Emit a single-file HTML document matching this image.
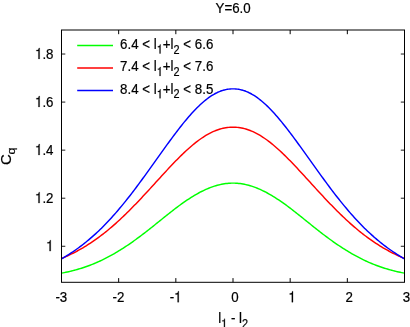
<!DOCTYPE html><html><head><meta charset="utf-8"><style>html,body{margin:0;padding:0;background:#fff}svg{display:block;will-change:transform;opacity:0.999}text{font-family:"Liberation Sans",sans-serif;fill:#000;stroke:#000;stroke-width:0.22px}</style></head><body>
<svg width="410" height="327" viewBox="0 0 410 327">
<rect width="410" height="327" fill="#fff"/>
<polyline points="61.50,273.16 62.93,272.89 64.36,272.60 65.79,272.31 67.22,272.00 68.65,271.68 70.07,271.35 71.50,271.00 72.93,270.64 74.36,270.27 75.79,269.89 77.22,269.49 78.65,269.07 80.08,268.65 81.51,268.20 82.94,267.74 84.37,267.27 85.80,266.78 87.23,266.28 88.65,265.76 90.08,265.22 91.51,264.67 92.94,264.10 94.37,263.51 95.80,262.91 97.23,262.29 98.66,261.65 100.09,261.00 101.52,260.32 102.95,259.63 104.38,258.93 105.80,258.21 107.23,257.47 108.66,256.72 110.09,255.95 111.52,255.16 112.95,254.36 114.38,253.54 115.81,252.71 117.24,251.86 118.67,250.99 120.10,250.11 121.53,249.22 122.95,248.31 124.38,247.38 125.81,246.44 127.24,245.49 128.67,244.53 130.10,243.55 131.53,242.55 132.96,241.55 134.39,240.53 135.82,239.50 137.25,238.46 138.68,237.41 140.10,236.35 141.53,235.28 142.96,234.20 144.39,233.10 145.82,232.00 147.25,230.89 148.68,229.77 150.11,228.64 151.54,227.50 152.97,226.36 154.40,225.21 155.82,224.06 157.25,222.91 158.68,221.75 160.11,220.60 161.54,219.44 162.97,218.29 164.40,217.13 165.83,215.99 167.26,214.84 168.69,213.70 170.12,212.57 171.55,211.45 172.98,210.34 174.40,209.24 175.83,208.15 177.26,207.07 178.69,206.01 180.12,204.96 181.55,203.93 182.98,202.92 184.41,201.92 185.84,200.94 187.27,199.97 188.70,199.03 190.12,198.10 191.55,197.19 192.98,196.31 194.41,195.44 195.84,194.60 197.27,193.79 198.70,193.00 200.13,192.23 201.56,191.49 202.99,190.78 204.42,190.10 205.85,189.44 207.28,188.81 208.70,188.22 210.13,187.65 211.56,187.11 212.99,186.61 214.42,186.14 215.85,185.70 217.28,185.30 218.71,184.92 220.14,184.59 221.57,184.28 223.00,184.02 224.43,183.78 225.85,183.59 227.28,183.42 228.71,183.30 230.14,183.21 231.57,183.15 233.00,183.14 234.43,183.15 235.86,183.21 237.29,183.30 238.72,183.42 240.15,183.59 241.58,183.78 243.00,184.02 244.43,184.28 245.86,184.59 247.29,184.92 248.72,185.30 250.15,185.70 251.58,186.14 253.01,186.61 254.44,187.11 255.87,187.65 257.30,188.22 258.73,188.81 260.15,189.44 261.58,190.10 263.01,190.78 264.44,191.49 265.87,192.23 267.30,193.00 268.73,193.79 270.16,194.60 271.59,195.44 273.02,196.31 274.45,197.19 275.88,198.10 277.30,199.03 278.73,199.97 280.16,200.94 281.59,201.92 283.02,202.92 284.45,203.93 285.88,204.96 287.31,206.01 288.74,207.07 290.17,208.15 291.60,209.24 293.02,210.34 294.45,211.45 295.88,212.57 297.31,213.70 298.74,214.84 300.17,215.99 301.60,217.13 303.03,218.29 304.46,219.44 305.89,220.60 307.32,221.75 308.75,222.91 310.18,224.06 311.60,225.21 313.03,226.36 314.46,227.50 315.89,228.64 317.32,229.77 318.75,230.89 320.18,232.00 321.61,233.10 323.04,234.20 324.47,235.28 325.90,236.35 327.32,237.41 328.75,238.46 330.18,239.50 331.61,240.53 333.04,241.55 334.47,242.55 335.90,243.55 337.33,244.53 338.76,245.49 340.19,246.44 341.62,247.38 343.05,248.31 344.48,249.22 345.90,250.11 347.33,250.99 348.76,251.86 350.19,252.71 351.62,253.54 353.05,254.36 354.48,255.16 355.91,255.95 357.34,256.72 358.77,257.47 360.20,258.21 361.62,258.93 363.05,259.63 364.48,260.32 365.91,261.00 367.34,261.65 368.77,262.29 370.20,262.91 371.63,263.51 373.06,264.10 374.49,264.67 375.92,265.22 377.35,265.76 378.78,266.28 380.20,266.78 381.63,267.27 383.06,267.74 384.49,268.20 385.92,268.65 387.35,269.07 388.78,269.49 390.21,269.89 391.64,270.27 393.07,270.64 394.50,271.00 395.93,271.35 397.35,271.68 398.78,272.00 400.21,272.31 401.64,272.60 403.07,272.89 404.50,273.16" fill="none" stroke="#00ff00" stroke-width="1.45" stroke-linejoin="round"/>
<polyline points="61.50,258.54 62.93,257.93 64.36,257.31 65.79,256.68 67.22,256.03 68.65,255.36 70.07,254.67 71.50,253.97 72.93,253.26 74.36,252.52 75.79,251.77 77.22,251.00 78.65,250.22 80.08,249.42 81.51,248.60 82.94,247.76 84.37,246.90 85.80,246.03 87.23,245.13 88.65,244.22 90.08,243.30 91.51,242.35 92.94,241.38 94.37,240.40 95.80,239.39 97.23,238.37 98.66,237.33 100.09,236.27 101.52,235.20 102.95,234.10 104.38,232.98 105.80,231.84 107.23,230.69 108.66,229.51 110.09,228.31 111.52,227.10 112.95,225.86 114.38,224.61 115.81,223.34 117.24,222.05 118.67,220.74 120.10,219.42 121.53,218.08 122.95,216.73 124.38,215.36 125.81,213.97 127.24,212.57 128.67,211.15 130.10,209.72 131.53,208.28 132.96,206.83 134.39,205.36 135.82,203.88 137.25,202.40 138.68,200.90 140.10,199.39 141.53,197.88 142.96,196.36 144.39,194.82 145.82,193.28 147.25,191.74 148.68,190.18 150.11,188.62 151.54,187.06 152.97,185.49 154.40,183.92 155.82,182.35 157.25,180.78 158.68,179.21 160.11,177.65 161.54,176.08 162.97,174.52 164.40,172.97 165.83,171.42 167.26,169.88 168.69,168.35 170.12,166.83 171.55,165.32 172.98,163.82 174.40,162.34 175.83,160.86 177.26,159.41 178.69,157.97 180.12,156.54 181.55,155.14 182.98,153.75 184.41,152.39 185.84,151.05 187.27,149.74 188.70,148.45 190.12,147.19 191.55,145.96 192.98,144.75 194.41,143.58 195.84,142.44 197.27,141.34 198.70,140.27 200.13,139.24 201.56,138.24 202.99,137.28 204.42,136.36 205.85,135.48 207.28,134.64 208.70,133.84 210.13,133.08 211.56,132.36 212.99,131.69 214.42,131.06 215.85,130.48 217.28,129.95 218.71,129.46 220.14,129.01 221.57,128.62 223.00,128.27 224.43,127.98 225.85,127.73 227.28,127.53 228.71,127.38 230.14,127.29 231.57,127.24 233.00,127.24 234.43,127.24 235.86,127.29 237.29,127.38 238.72,127.53 240.15,127.73 241.58,127.98 243.00,128.27 244.43,128.62 245.86,129.01 247.29,129.46 248.72,129.95 250.15,130.48 251.58,131.06 253.01,131.69 254.44,132.36 255.87,133.08 257.30,133.84 258.73,134.64 260.15,135.48 261.58,136.36 263.01,137.28 264.44,138.24 265.87,139.24 267.30,140.27 268.73,141.34 270.16,142.44 271.59,143.58 273.02,144.75 274.45,145.96 275.88,147.19 277.30,148.45 278.73,149.74 280.16,151.05 281.59,152.39 283.02,153.75 284.45,155.14 285.88,156.54 287.31,157.97 288.74,159.41 290.17,160.86 291.60,162.34 293.02,163.82 294.45,165.32 295.88,166.83 297.31,168.35 298.74,169.88 300.17,171.42 301.60,172.97 303.03,174.52 304.46,176.08 305.89,177.65 307.32,179.21 308.75,180.78 310.18,182.35 311.60,183.92 313.03,185.49 314.46,187.06 315.89,188.62 317.32,190.18 318.75,191.74 320.18,193.28 321.61,194.82 323.04,196.36 324.47,197.88 325.90,199.39 327.32,200.90 328.75,202.40 330.18,203.88 331.61,205.36 333.04,206.83 334.47,208.28 335.90,209.72 337.33,211.15 338.76,212.57 340.19,213.97 341.62,215.36 343.05,216.73 344.48,218.08 345.90,219.42 347.33,220.74 348.76,222.05 350.19,223.34 351.62,224.61 353.05,225.86 354.48,227.10 355.91,228.31 357.34,229.51 358.77,230.69 360.20,231.84 361.62,232.98 363.05,234.10 364.48,235.20 365.91,236.27 367.34,237.33 368.77,238.37 370.20,239.39 371.63,240.40 373.06,241.38 374.49,242.35 375.92,243.30 377.35,244.22 378.78,245.13 380.20,246.03 381.63,246.90 383.06,247.76 384.49,248.60 385.92,249.42 387.35,250.22 388.78,251.00 390.21,251.77 391.64,252.52 393.07,253.26 394.50,253.97 395.93,254.67 397.35,255.36 398.78,256.03 400.21,256.68 401.64,257.31 403.07,257.93 404.50,258.54" fill="none" stroke="#ff0000" stroke-width="1.45" stroke-linejoin="round"/>
<polyline points="61.50,258.83 62.93,258.01 64.36,257.18 65.79,256.32 67.22,255.45 68.65,254.56 70.07,253.64 71.50,252.71 72.93,251.75 74.36,250.78 75.79,249.78 77.22,248.77 78.65,247.73 80.08,246.67 81.51,245.59 82.94,244.49 84.37,243.37 85.80,242.22 87.23,241.05 88.65,239.87 90.08,238.65 91.51,237.42 92.94,236.16 94.37,234.89 95.80,233.59 97.23,232.26 98.66,230.92 100.09,229.55 101.52,228.15 102.95,226.73 104.38,225.28 105.80,223.81 107.23,222.32 108.66,220.80 110.09,219.25 111.52,217.69 112.95,216.10 114.38,214.49 115.81,212.86 117.24,211.20 118.67,209.53 120.10,207.83 121.53,206.12 122.95,204.38 124.38,202.63 125.81,200.86 127.24,199.07 128.67,197.26 130.10,195.44 131.53,193.59 132.96,191.73 134.39,189.85 135.82,187.96 137.25,186.05 138.68,184.12 140.10,182.19 141.53,180.24 142.96,178.28 144.39,176.32 145.82,174.34 147.25,172.36 148.68,170.37 150.11,168.38 151.54,166.39 152.97,164.39 154.40,162.40 155.82,160.40 157.25,158.40 158.68,156.39 160.11,154.39 161.54,152.40 162.97,150.40 164.40,148.41 165.83,146.43 167.26,144.45 168.69,142.49 170.12,140.53 171.55,138.59 172.98,136.66 174.40,134.74 175.83,132.85 177.26,130.97 178.69,129.11 180.12,127.27 181.55,125.46 182.98,123.67 184.41,121.91 185.84,120.18 187.27,118.48 188.70,116.81 190.12,115.17 191.55,113.57 192.98,112.01 194.41,110.48 195.84,108.99 197.27,107.55 198.70,106.15 200.13,104.79 201.56,103.48 202.99,102.21 204.42,101.00 205.85,99.83 207.28,98.72 208.70,97.66 210.13,96.66 211.56,95.72 212.99,94.83 214.42,94.01 215.85,93.24 217.28,92.53 218.71,91.89 220.14,91.30 221.57,90.78 223.00,90.32 224.43,89.93 225.85,89.59 227.28,89.32 228.71,89.12 230.14,88.98 231.57,88.90 233.00,88.89 234.43,88.90 235.86,88.98 237.29,89.12 238.72,89.32 240.15,89.59 241.58,89.93 243.00,90.32 244.43,90.78 245.86,91.30 247.29,91.89 248.72,92.53 250.15,93.24 251.58,94.01 253.01,94.83 254.44,95.72 255.87,96.66 257.30,97.66 258.73,98.72 260.15,99.83 261.58,101.00 263.01,102.21 264.44,103.48 265.87,104.79 267.30,106.15 268.73,107.55 270.16,108.99 271.59,110.48 273.02,112.01 274.45,113.57 275.88,115.17 277.30,116.81 278.73,118.48 280.16,120.18 281.59,121.91 283.02,123.67 284.45,125.46 285.88,127.27 287.31,129.11 288.74,130.97 290.17,132.85 291.60,134.74 293.02,136.66 294.45,138.59 295.88,140.53 297.31,142.49 298.74,144.45 300.17,146.43 301.60,148.41 303.03,150.40 304.46,152.40 305.89,154.39 307.32,156.39 308.75,158.40 310.18,160.40 311.60,162.40 313.03,164.39 314.46,166.39 315.89,168.38 317.32,170.37 318.75,172.36 320.18,174.34 321.61,176.32 323.04,178.28 324.47,180.24 325.90,182.19 327.32,184.12 328.75,186.05 330.18,187.96 331.61,189.85 333.04,191.73 334.47,193.59 335.90,195.44 337.33,197.26 338.76,199.07 340.19,200.86 341.62,202.63 343.05,204.38 344.48,206.12 345.90,207.83 347.33,209.53 348.76,211.20 350.19,212.86 351.62,214.49 353.05,216.10 354.48,217.69 355.91,219.25 357.34,220.80 358.77,222.32 360.20,223.81 361.62,225.28 363.05,226.73 364.48,228.15 365.91,229.55 367.34,230.92 368.77,232.26 370.20,233.59 371.63,234.89 373.06,236.16 374.49,237.42 375.92,238.65 377.35,239.87 378.78,241.05 380.20,242.22 381.63,243.37 383.06,244.49 384.49,245.59 385.92,246.67 387.35,247.73 388.78,248.77 390.21,249.78 391.64,250.78 393.07,251.75 394.50,252.71 395.93,253.64 397.35,254.56 398.78,255.45 400.21,256.32 401.64,257.18 403.07,258.01 404.50,258.83" fill="none" stroke="#0000ff" stroke-width="1.45" stroke-linejoin="round"/>
<rect x="61.50" y="30.00" width="343.00" height="252.30" fill="none" stroke="#000" stroke-width="1"/>
<path d="M118.67 282.30v-4.2 M118.67 30.00v4.2" stroke="#000" stroke-width="1" fill="none"/>
<path d="M175.83 282.30v-4.2 M175.83 30.00v4.2" stroke="#000" stroke-width="1" fill="none"/>
<path d="M233.00 282.30v-4.2 M233.00 30.00v4.2" stroke="#000" stroke-width="1" fill="none"/>
<path d="M290.17 282.30v-4.2 M290.17 30.00v4.2" stroke="#000" stroke-width="1" fill="none"/>
<path d="M347.33 282.30v-4.2 M347.33 30.00v4.2" stroke="#000" stroke-width="1" fill="none"/>
<path d="M61.50 246.27h3.8 M404.50 246.27h-3.7" stroke="#000" stroke-width="0.9" fill="none"/>
<path d="M61.50 198.21h3.8 M404.50 198.21h-3.7" stroke="#000" stroke-width="0.9" fill="none"/>
<path d="M61.50 150.15h3.8 M404.50 150.15h-3.7" stroke="#000" stroke-width="0.9" fill="none"/>
<path d="M61.50 102.09h3.8 M404.50 102.09h-3.7" stroke="#000" stroke-width="0.9" fill="none"/>
<path d="M61.50 54.03h3.8 M404.50 54.03h-3.7" stroke="#000" stroke-width="0.9" fill="none"/>
<text transform="translate(55.38 302.20) scale(0.865 1)" font-size="15.4">-</text>
<text transform="translate(59.81 302.20) scale(0.865 1)" font-size="15.4">3</text>
<text transform="translate(112.55 302.20) scale(0.865 1)" font-size="15.4">-</text>
<text transform="translate(116.98 302.20) scale(0.865 1)" font-size="15.4">2</text>
<text transform="translate(169.71 302.20) scale(0.865 1)" font-size="15.4">-</text>
<polygon points="178.78,302.20 177.60,302.20 177.60,294.42 175.51,294.42 175.51,293.45 176.81,293.34 177.74,292.65 178.08,291.28 178.78,291.28" fill="#000" stroke="#000" stroke-width="0.25"/>
<text transform="translate(231.20 302.20) scale(0.865 1)" font-size="15.4">0</text>
<polygon points="293.00,302.20 291.81,302.20 291.81,294.42 289.72,294.42 289.72,293.45 291.03,293.34 291.96,292.65 292.29,291.28 293.00,291.28" fill="#000" stroke="#000" stroke-width="0.25"/>
<text transform="translate(345.53 302.20) scale(0.865 1)" font-size="15.4">2</text>
<text transform="translate(402.70 302.20) scale(0.865 1)" font-size="15.4">3</text>
<polygon points="50.73,251.12 49.54,251.12 49.54,243.34 47.45,243.34 47.45,242.37 48.76,242.26 49.69,241.57 50.02,240.20 50.73,240.20" fill="#000" stroke="#000" stroke-width="0.25"/>
<polygon points="39.62,203.06 38.43,203.06 38.43,195.28 36.34,195.28 36.34,194.31 37.65,194.21 38.58,193.51 38.91,192.14 39.62,192.14" fill="#000" stroke="#000" stroke-width="0.25"/>
<text transform="translate(42.39 203.06) scale(0.865 1)" font-size="15.4">.</text>
<text transform="translate(46.09 203.06) scale(0.865 1)" font-size="15.4">2</text>
<polygon points="39.62,155.00 38.43,155.00 38.43,147.22 36.34,147.22 36.34,146.25 37.65,146.15 38.58,145.45 38.91,144.08 39.62,144.08" fill="#000" stroke="#000" stroke-width="0.25"/>
<text transform="translate(42.39 155.00) scale(0.865 1)" font-size="15.4">.</text>
<text transform="translate(46.09 155.00) scale(0.865 1)" font-size="15.4">4</text>
<polygon points="39.62,106.94 38.43,106.94 38.43,99.16 36.34,99.16 36.34,98.19 37.65,98.08 38.58,97.39 38.91,96.02 39.62,96.02" fill="#000" stroke="#000" stroke-width="0.25"/>
<text transform="translate(42.39 106.94) scale(0.865 1)" font-size="15.4">.</text>
<text transform="translate(46.09 106.94) scale(0.865 1)" font-size="15.4">6</text>
<polygon points="39.62,58.88 38.43,58.88 38.43,51.10 36.34,51.10 36.34,50.13 37.65,50.02 38.58,49.33 38.91,47.96 39.62,47.96" fill="#000" stroke="#000" stroke-width="0.25"/>
<text transform="translate(42.39 58.88) scale(0.865 1)" font-size="15.4">.</text>
<text transform="translate(46.09 58.88) scale(0.865 1)" font-size="15.4">8</text>
<text transform="translate(215.51 12.90) scale(0.865 1)" font-size="15.4">Y</text>
<text transform="translate(224.39 12.90) scale(0.865 1)" font-size="15.4">=</text>
<text transform="translate(232.17 12.90) scale(0.865 1)" font-size="15.4">6</text>
<text transform="translate(239.58 12.90) scale(0.865 1)" font-size="15.4">.</text>
<text transform="translate(243.28 12.90) scale(0.865 1)" font-size="15.4">0</text>
<text transform="translate(218.16 323.20) scale(0.865 1)" font-size="15.4">l</text>
<polygon points="224.91,327.70 223.94,327.70 223.94,321.34 222.23,321.34 222.23,320.54 223.30,320.45 224.06,319.89 224.33,318.77 224.91,318.77" fill="#000" stroke="#000" stroke-width="0.25"/>
<text transform="translate(230.88 323.20) scale(0.865 1)" font-size="15.4">-</text>
<text transform="translate(239.02 323.20) scale(0.865 1)" font-size="15.4">l</text>
<text transform="translate(241.98 327.70) scale(0.865 1)" font-size="12.6">2</text>
<path d="M77.2 45.40H113" stroke="#00ff00" stroke-width="1.5" fill="none"/>
<text transform="translate(120.08 49.00) scale(0.865 1)" font-size="15.4">6</text>
<text transform="translate(127.49 49.00) scale(0.865 1)" font-size="15.4">.</text>
<text transform="translate(131.19 49.00) scale(0.865 1)" font-size="15.4">4</text>
<text transform="translate(142.30 49.00) scale(0.865 1)" font-size="15.4">&lt;</text>
<text transform="translate(153.78 49.00) scale(0.865 1)" font-size="15.4">l</text>
<polygon points="160.53,53.50 159.56,53.50 159.56,47.14 157.85,47.14 157.85,46.34 158.92,46.26 159.68,45.69 159.96,44.57 160.53,44.57" fill="#000" stroke="#000" stroke-width="0.25"/>
<text transform="translate(162.80 49.00) scale(0.865 1)" font-size="15.4">+</text>
<text transform="translate(170.58 49.00) scale(0.865 1)" font-size="15.4">l</text>
<text transform="translate(173.54 53.50) scale(0.865 1)" font-size="12.6">2</text>
<text transform="translate(183.30 49.00) scale(0.865 1)" font-size="15.4">&lt;</text>
<text transform="translate(194.78 49.00) scale(0.865 1)" font-size="15.4">6</text>
<text transform="translate(202.19 49.00) scale(0.865 1)" font-size="15.4">.</text>
<text transform="translate(205.89 49.00) scale(0.865 1)" font-size="15.4">6</text>
<path d="M77.2 67.90H113" stroke="#ff0000" stroke-width="1.5" fill="none"/>
<text transform="translate(120.08 71.40) scale(0.865 1)" font-size="15.4">7</text>
<text transform="translate(127.49 71.40) scale(0.865 1)" font-size="15.4">.</text>
<text transform="translate(131.19 71.40) scale(0.865 1)" font-size="15.4">4</text>
<text transform="translate(142.30 71.40) scale(0.865 1)" font-size="15.4">&lt;</text>
<text transform="translate(153.78 71.40) scale(0.865 1)" font-size="15.4">l</text>
<polygon points="160.53,75.90 159.56,75.90 159.56,69.54 157.85,69.54 157.85,68.74 158.92,68.66 159.68,68.09 159.96,66.97 160.53,66.97" fill="#000" stroke="#000" stroke-width="0.25"/>
<text transform="translate(162.80 71.40) scale(0.865 1)" font-size="15.4">+</text>
<text transform="translate(170.58 71.40) scale(0.865 1)" font-size="15.4">l</text>
<text transform="translate(173.54 75.90) scale(0.865 1)" font-size="12.6">2</text>
<text transform="translate(183.30 71.40) scale(0.865 1)" font-size="15.4">&lt;</text>
<text transform="translate(194.78 71.40) scale(0.865 1)" font-size="15.4">7</text>
<text transform="translate(202.19 71.40) scale(0.865 1)" font-size="15.4">.</text>
<text transform="translate(205.89 71.40) scale(0.865 1)" font-size="15.4">6</text>
<path d="M77.2 90.40H113" stroke="#0000ff" stroke-width="1.5" fill="none"/>
<text transform="translate(120.08 93.80) scale(0.865 1)" font-size="15.4">8</text>
<text transform="translate(127.49 93.80) scale(0.865 1)" font-size="15.4">.</text>
<text transform="translate(131.19 93.80) scale(0.865 1)" font-size="15.4">4</text>
<text transform="translate(142.30 93.80) scale(0.865 1)" font-size="15.4">&lt;</text>
<text transform="translate(153.78 93.80) scale(0.865 1)" font-size="15.4">l</text>
<polygon points="160.53,98.30 159.56,98.30 159.56,91.94 157.85,91.94 157.85,91.14 158.92,91.05 159.68,90.49 159.96,89.37 160.53,89.37" fill="#000" stroke="#000" stroke-width="0.25"/>
<text transform="translate(162.80 93.80) scale(0.865 1)" font-size="15.4">+</text>
<text transform="translate(170.58 93.80) scale(0.865 1)" font-size="15.4">l</text>
<text transform="translate(173.54 98.30) scale(0.865 1)" font-size="12.6">2</text>
<text transform="translate(183.30 93.80) scale(0.865 1)" font-size="15.4">&lt;</text>
<text transform="translate(194.78 93.80) scale(0.865 1)" font-size="15.4">8</text>
<text transform="translate(202.19 93.80) scale(0.865 1)" font-size="15.4">.</text>
<text transform="translate(205.89 93.80) scale(0.865 1)" font-size="15.4">5</text>
<g transform="translate(10.6 164.9) rotate(-90)"><text font-size="15" transform="scale(1 0.930)">C</text><text font-size="12.5" transform="translate(10.3 4.05) scale(1 0.930)">q</text></g>
</svg></body></html>
